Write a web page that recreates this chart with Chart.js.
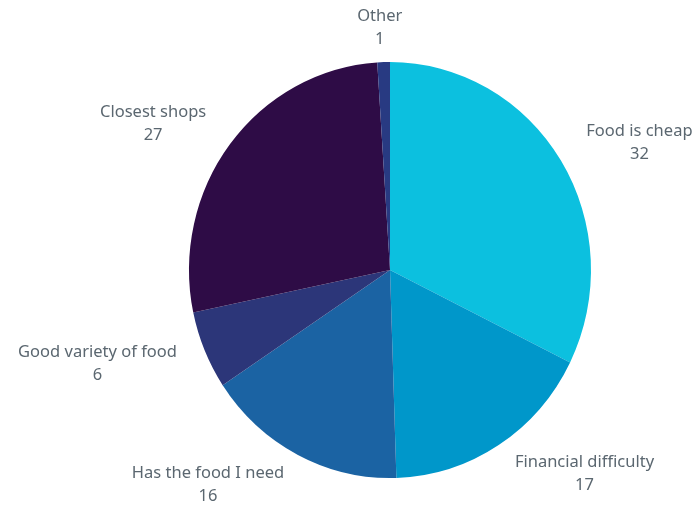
<!DOCTYPE html>
<html>
<head>
<meta charset="utf-8">
<script src="https://cdn.jsdelivr.net/npm/chart.js@4"></script>
<style>
  html, body { margin: 0; padding: 0; background: #ffffff; }
  #wrap { width: 697px; height: 506px; }
</style>
</head>
<body>
<div id="wrap"><canvas id="c" width="697" height="506"></canvas></div>
<script>
// Reasons for choosing where to shop
const categories = ["Food is cheap", "Financial difficulty", "Has the food I need", "Good variety of food", "Closest shops", "Other"];
const counts = [32, 17, 16, 6, 27, 1];
const sliceColors = ["#0cc0df", "#0097ca", "#1b63a3", "#2c3679", "#2e0c46", "#283a82"];

const LABEL_FONT = '16.5px "Noto Sans", "Open Sans", sans-serif';
const LABEL_COLOR = "#5b6770";
const Y_STRETCH = 1.035;

// Slightly taller pie: stretch the arcs vertically about the pie centre
const stretchPlugin = {
  id: "stretch",
  beforeDatasetsDraw(chart) {
    const arc = chart.getDatasetMeta(0).data[0];
    if (!arc) return;
    const ctx = chart.ctx;
    ctx.save();
    ctx.translate(arc.x, arc.y);
    ctx.scale(1, Y_STRETCH);
    ctx.translate(-arc.x, -arc.y);
  },
  afterDatasetsDraw(chart) {
    chart.ctx.restore();
  }
};

// Category name and count placed outside each slice
const outerLabels = {
  id: "outerLabels",
  afterDraw(chart) {
    const ctx = chart.ctx;
    const meta = chart.getDatasetMeta(0);
    ctx.save();
    ctx.font = LABEL_FONT;
    ctx.fillStyle = LABEL_COLOR;
    ctx.textAlign = "center";
    ctx.textBaseline = "middle";
    meta.data.forEach((arc, i) => {
      const p = arc.getProps(["x", "y", "startAngle", "endAngle", "outerRadius"], true);
      const mid = (p.startAngle + p.endAngle) / 2;
      const cos = Math.cos(mid), sin = Math.sin(mid);
      const lines = [categories[i], String(counts[i])];
      const w = Math.max(...lines.map(t => ctx.measureText(t).width));
      const side = Math.max(-1, Math.min(1, cos * 4));
      const cx = p.x + cos * (p.outerRadius + 30) + side * w / 2;
      const cy = p.y + sin * (p.outerRadius * Y_STRETCH + 34);
      const lh = 23;
      ctx.fillText(lines[0], cx, cy - lh / 2);
      ctx.fillText(lines[1], cx, cy + lh / 2);
    });
    ctx.restore();
  }
};

new Chart(document.getElementById("c"), {
  type: "pie",
  data: {
    labels: categories,
    datasets: [{
      data: counts,
      backgroundColor: sliceColors,
      borderWidth: 0
    }]
  },
  options: {
    responsive: false,
    animation: false,
    layout: { padding: { left: 189, right: 106, top: 69, bottom: 35 } },
    plugins: {
      legend: { display: false },
      tooltip: { enabled: false }
    }
  },
  plugins: [stretchPlugin, outerLabels]
});
</script>
</body>
</html>
